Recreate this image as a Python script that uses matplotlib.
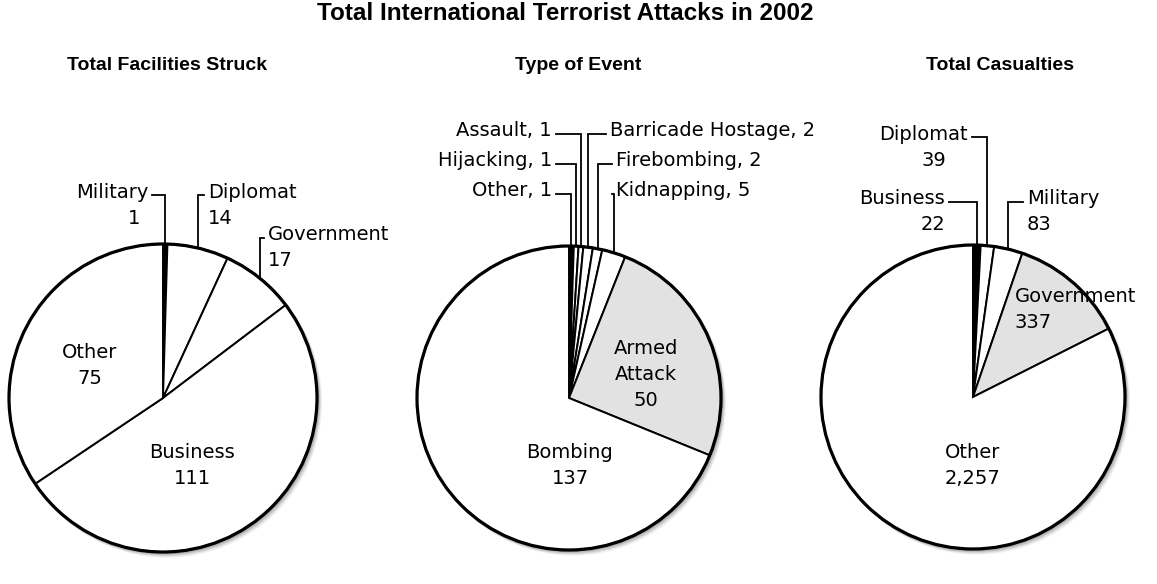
import numpy as np
import matplotlib
matplotlib.use("Agg")
import matplotlib.pyplot as plt
from matplotlib.patches import Circle

# ---- data ----
facility_labels = ["Military", "Diplomat", "Government", "Business", "Other"]
facility_values = [1, 14, 17, 111, 75]

event_labels = ["Other", "Hijacking", "Assault", "Barricade Hostage",
                "Firebombing", "Kidnapping", "Armed Attack", "Bombing"]
event_values = [1, 1, 1, 2, 2, 5, 50, 137]

casualty_labels = ["Business", "Diplomat", "Military", "Government", "Other"]
casualty_values = [22, 39, 83, 337, 2257]

chart_title = "Total International Terrorist Attacks in 2002"
pie_titles = ["Total Facilities Struck", "Type of Event", "Total Casualties"]

W, H = 1157, 584
TITLE_FONT = ["Liberation Sans", "DejaVu Sans"]
LABEL_FONT = ["DejaVu Sans"]
LSIZE = 14


def fmt(v):
    return "{:,}".format(v)


fig = plt.figure(figsize=(W / 100, H / 100), dpi=100)
ax = fig.add_axes([0, 0, 1, 1])


def Y(y):
    # pixel row (from top) -> data y
    return H - y


def draw_pie(values, cx, cy, r, black=0, shaded=()):
    colors = ["white"] * len(values)
    colors[black] = "black"
    for i in shaded:
        colors[i] = "#e2e2e2"
    # soft scan shadow on the lower right
    for k, a in zip(range(7, 0, -1), [0.06, 0.09, 0.12, 0.16, 0.2, 0.25, 0.3]):
        ax.add_patch(Circle((cx + k * 0.6, Y(cy) - k * 0.7), r + 1, color="#888888",
                            alpha=a, lw=0, zorder=1))
    ax.add_patch(Circle((cx, Y(cy)), r, color="white", lw=0, zorder=1.5))
    ax.pie(values, colors=colors, startangle=90, counterclock=False,
           center=(cx, Y(cy)), radius=r,
           wedgeprops=dict(edgecolor="black", linewidth=1.4, zorder=2))
    ax.add_patch(Circle((cx, Y(cy)), r, fill=False, ec="black", lw=2.3, zorder=3))
    total = float(sum(values))
    mids = []
    cum = 0
    for v in values:
        mids.append(np.deg2rad((cum + v / 2.0) / total * 360.0))
        cum += v
    return mids


def leader(cx, cy, r, theta, line_y, text_x, side, name, number=None, num_dx=0):
    xl = cx + r * np.sin(theta)
    yc = Y(cy) + r * np.cos(theta)
    end = text_x + (4 if side == "left" else -4)
    ax.plot([xl, xl, end], [yc, Y(line_y), Y(line_y)], color="black", lw=1.3,
            zorder=4, solid_joinstyle="miter")
    ha = "right" if side == "left" else "left"
    ax.text(text_x, Y(line_y - 3), name, ha=ha, va="center", fontsize=LSIZE,
            family=LABEL_FONT, zorder=5)
    if number is not None:
        ax.text(text_x + num_dx, Y(line_y + 23), number, ha=ha, va="center",
                fontsize=LSIZE, family=LABEL_FONT, zorder=5)


def inner(x, y, lines, ha="center"):
    for i, s in enumerate(lines):
        ax.text(x, Y(y + i * 26), s, ha=ha, va="center", fontsize=LSIZE,
                family=LABEL_FONT, zorder=5)


# ---- left pie: facilities ----
cx1, cy1, r1 = 163, 398, 154
m = draw_pie(facility_values, cx1, cy1, r1, black=0)
leader(cx1, cy1, r1, m[0], 195, 148, "left", facility_labels[0],
       fmt(facility_values[0]), num_dx=-8)
leader(cx1, cy1, r1, m[1], 195, 208, "right", facility_labels[1], fmt(facility_values[1]))
leader(cx1, cy1, r1, m[2], 238, 268, "right", facility_labels[2], fmt(facility_values[2]))
inner(90, 352, [facility_labels[4], fmt(facility_values[4])])
inner(192, 452, [facility_labels[3], fmt(facility_values[3])])

# ---- middle pie: type of event ----
cx2, cy2, r2 = 569, 398, 152
m = draw_pie(event_values, cx2, cy2, r2, black=0, shaded=(6,))
left_rows = {2: 134, 1: 164, 0: 194}
for i, ly in left_rows.items():
    leader(cx2, cy2, r2, m[i], ly, 552, "left",
           "{}, {}".format(event_labels[i], fmt(event_values[i])))
right_rows = {3: (134, 610), 4: (164, 616), 5: (194, 616)}
for i, (ly, tx) in right_rows.items():
    leader(cx2, cy2, r2, m[i], ly, tx, "right",
           "{}, {}".format(event_labels[i], fmt(event_values[i])))
inner(646, 348, ["Armed", "Attack", fmt(event_values[6])])
inner(570, 452, [event_labels[7], fmt(event_values[7])])

# ---- right pie: casualties ----
cx3, cy3, r3 = 973, 397, 152
m = draw_pie(casualty_values, cx3, cy3, r3, black=0, shaded=(3,))
leader(cx3, cy3, r3, m[0], 202, 945, "left", casualty_labels[0], fmt(casualty_values[0]))
leader(cx3, cy3, r3, m[1], 137, 968, "left", casualty_labels[1],
       fmt(casualty_values[1]), num_dx=-22)
leader(cx3, cy3, r3, m[2], 202, 1027, "right", casualty_labels[2], fmt(casualty_values[2]))
inner(1015, 296, [casualty_labels[3], fmt(casualty_values[3])], ha="left")
inner(973, 452, [casualty_labels[4], fmt(casualty_values[4])])

# ---- titles ----
ax.text(565, Y(14), chart_title, ha="center", va="center", fontsize=17.5,
        fontweight="bold", family=TITLE_FONT)
for x, t in zip([167, 578, 1000], pie_titles):
    ax.text(x, Y(65), t, ha="center", va="center", fontsize=14,
            fontweight="bold", family=TITLE_FONT)

ax.set_xlim(0, W)
ax.set_ylim(0, H)
ax.set_aspect("auto")
ax.axis("off")

fig.savefig("out.png", dpi=100, facecolor="white")
